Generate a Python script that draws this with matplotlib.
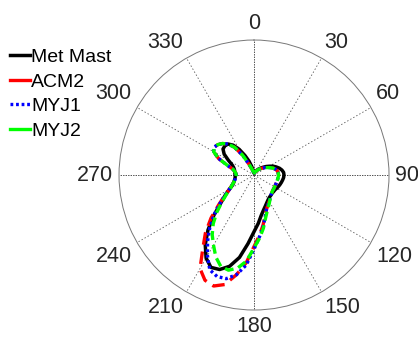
import numpy as np
import matplotlib.pyplot as plt

plt.rcParams['font.family'] = ['Liberation Sans', 'DejaVu Sans']
plt.rcParams['lines.scale_dashes'] = False

# wind direction bins (deg, clockwise from north)
direction = list(range(0, 360, 5))

met_mast = [0.020, 0.015, 0.015, 0.020, 0.025, 0.030, 0.040, 0.050, 0.060, 0.075, 0.090, 0.110,
            0.130, 0.155, 0.175, 0.195, 0.210, 0.220, 0.222, 0.220, 0.215, 0.210, 0.205, 0.200,
            0.195, 0.190, 0.190, 0.190, 0.195, 0.200, 0.210, 0.225, 0.245, 0.270, 0.305, 0.360,
            0.420, 0.510, 0.620, 0.700, 0.745, 0.755, 0.710, 0.630, 0.530, 0.420, 0.320, 0.260,
            0.210, 0.175, 0.160, 0.150, 0.143, 0.140, 0.140, 0.142, 0.145, 0.150, 0.160, 0.180,
            0.220, 0.270, 0.300, 0.305, 0.300, 0.270, 0.220, 0.160, 0.110, 0.065, 0.035, 0.020]

acm2 = [0.020, 0.015, 0.015, 0.020, 0.025, 0.030, 0.035, 0.045, 0.055, 0.065, 0.080, 0.095,
        0.110, 0.130, 0.150, 0.165, 0.175, 0.180, 0.182, 0.180, 0.178, 0.176, 0.175, 0.175,
        0.176, 0.178, 0.180, 0.186, 0.195, 0.210, 0.225, 0.245, 0.270, 0.315, 0.380, 0.450,
        0.530, 0.650, 0.750, 0.840, 0.875, 0.860, 0.800, 0.660, 0.560, 0.450, 0.340, 0.265,
        0.210, 0.180, 0.160, 0.148, 0.140, 0.135, 0.132, 0.135, 0.145, 0.160, 0.210, 0.290,
        0.345, 0.360, 0.350, 0.330, 0.300, 0.250, 0.170, 0.090, 0.050, 0.030, 0.020, 0.020]

myj1 = [0.020, 0.015, 0.015, 0.020, 0.025, 0.030, 0.035, 0.045, 0.055, 0.065, 0.080, 0.095,
        0.110, 0.130, 0.150, 0.165, 0.175, 0.180, 0.182, 0.180, 0.178, 0.176, 0.175, 0.175,
        0.176, 0.178, 0.180, 0.186, 0.195, 0.210, 0.225, 0.245, 0.270, 0.320, 0.390, 0.460,
        0.550, 0.670, 0.750, 0.795, 0.800, 0.775, 0.690, 0.600, 0.510, 0.420, 0.330, 0.260,
        0.210, 0.180, 0.160, 0.148, 0.140, 0.135, 0.132, 0.135, 0.145, 0.160, 0.210, 0.290,
        0.345, 0.360, 0.350, 0.330, 0.300, 0.250, 0.170, 0.090, 0.050, 0.030, 0.020, 0.020]

myj2 = [0.020, 0.015, 0.015, 0.020, 0.025, 0.030, 0.035, 0.045, 0.055, 0.065, 0.080, 0.095,
        0.110, 0.130, 0.150, 0.165, 0.175, 0.180, 0.182, 0.180, 0.178, 0.176, 0.175, 0.175,
        0.176, 0.178, 0.180, 0.186, 0.195, 0.210, 0.230, 0.255, 0.285, 0.330, 0.400, 0.470,
        0.540, 0.640, 0.700, 0.730, 0.720, 0.670, 0.600, 0.540, 0.470, 0.390, 0.310, 0.250,
        0.205, 0.180, 0.160, 0.148, 0.140, 0.135, 0.132, 0.135, 0.145, 0.160, 0.210, 0.290,
        0.345, 0.360, 0.350, 0.330, 0.300, 0.250, 0.170, 0.090, 0.050, 0.030, 0.020, 0.020]

angle_labels = [0, 30, 60, 90, 120, 150, 180, 210, 240, 270, 300, 330]
r_max = 1.0


def closed(vals):
    return vals + vals[:1]


theta = np.deg2rad(direction + [360])

fig = plt.figure(figsize=(4.18, 3.38), dpi=100)
ax = fig.add_axes([0.2847, 0.0828, 0.646, 0.7988], projection='polar')
ax.set_theta_zero_location('N')
ax.set_theta_direction(-1)
ax.set_ylim(0, r_max)
ax.set_yticks([])
ax.set_xticks(np.deg2rad(angle_labels))
ax.set_xticklabels([])
ax.xaxis.grid(True, color='#555555', linestyle=(0, (1, 1.5)), linewidth=0.6)
for i, gl in enumerate(ax.xaxis.get_gridlines()):
    if angle_labels[i] % 90 == 0:
        gl.set_color('#333333')
        gl.set_linestyle((0, (1, 0.8)))
ax.spines['polar'].set_color('#777777')
ax.spines['polar'].set_linewidth(0.7)

# labels sit just outside the rim, aligned by their inner edge (MATLAB style)
for a in angle_labels:
    s, c = np.sin(np.deg2rad(a)), np.cos(np.deg2rad(a))
    ha = 'left' if s > 0.01 else ('right' if s < -0.01 else 'center')
    va = 'bottom' if c > 0.01 else ('top' if c < -0.01 else 'center')
    ax.text(np.deg2rad(a), 1.045 * r_max, str(a), ha=ha, va=va,
            fontsize=15.5, color='#262626')

ax.plot(theta, closed(met_mast), color='black', lw=2.5, label='Met Mast')
ax.plot(theta, closed(acm2), color='red', lw=2.4, dashes=(9, 5), label='ACM2')
ax.plot(theta, closed(myj1), color='blue', lw=2.4, dashes=(2, 2), label='MYJ1')
ax.plot(theta, closed(myj2), color='#00ff00', lw=2.4, dashes=(6.5, 3.5), label='MYJ2')

leg = fig.legend(loc='upper left', bbox_to_anchor=(0.024, 0.856), frameon=False,
                 fontsize=14, handlelength=1.05, handletextpad=0.05, labelspacing=0.35,
                 borderpad=0, borderaxespad=0)
# dashed handles show as one short solid stroke, dotted stays dotted
for line, style in zip(leg.get_lines(), ['-', '-', (0, (2, 2)), '-']):
    line.set_linestyle(style)

fig.savefig('out.png', dpi=100)
